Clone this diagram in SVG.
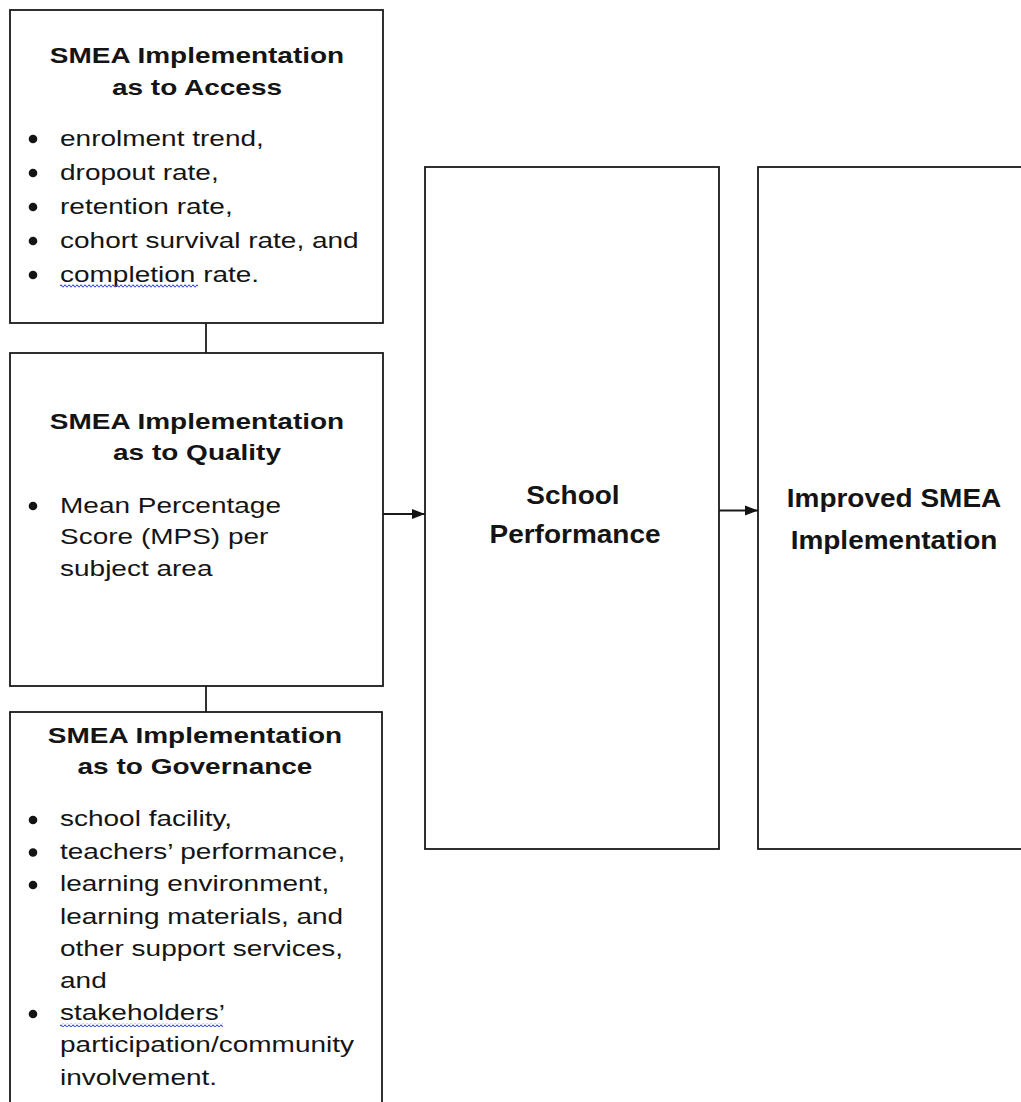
<svg xmlns="http://www.w3.org/2000/svg" width="1021" height="1102" viewBox="0 0 1021 1102">
<style>
.box{fill:#fff;stroke:#1a1a1a;stroke-width:1.8}
text{font-family:"Liberation Sans",Arial,sans-serif;font-size:28px;fill:#141414}
.t{font-weight:bold;text-anchor:middle}
.c{stroke:#1a1a1a;stroke-width:1.8;fill:none}
.dot{fill:#141414}
</style>
<defs>
<marker id="arr" markerWidth="14" markerHeight="12" refX="13" refY="6" orient="auto" markerUnits="userSpaceOnUse">
<path d="M0,1 L13,6 L0,11 Z" fill="#141414"/>
</marker>
<pattern id="wave" width="4" height="4" patternUnits="userSpaceOnUse">
<path d="M0,2 Q1,0.3 2,2 T4,2" fill="none" stroke="#3b4fd8" stroke-width="1.1"/>
</pattern>
</defs>
<rect width="1021" height="1102" fill="#fff"/>
<g id="connectors">
<line class="c" x1="206" y1="323" x2="206" y2="353"/>
<line class="c" x1="206" y1="686" x2="206" y2="712"/>
<line class="c" x1="383" y1="514" x2="425" y2="514" marker-end="url(#arr)"/>
<line class="c" x1="719" y1="510.5" x2="758" y2="510.5" marker-end="url(#arr)"/>
</g>
<g id="access">
<rect class="box" x="10" y="10" width="373" height="313"/>
<text class="t" transform="translate(197,63) scale(1,0.81)">SMEA Implementation</text>
<text class="t" transform="translate(197,95) scale(1,0.81)">as to Access</text>
<circle class="dot" cx="33" cy="139" r="4.3"/>
<circle class="dot" cx="33" cy="173" r="4.3"/>
<circle class="dot" cx="33" cy="207" r="4.3"/>
<circle class="dot" cx="33" cy="241" r="4.3"/>
<circle class="dot" cx="33" cy="275" r="4.3"/>
<text transform="translate(60,145.5) scale(1,0.81)">enrolment trend,</text>
<text transform="translate(60,179.5) scale(1,0.81)">dropout rate,</text>
<text transform="translate(60,213.5) scale(1,0.81)">retention rate,</text>
<text transform="translate(60,247.5) scale(1,0.81)">cohort survival rate, and</text>
<text transform="translate(60,281.5) scale(1,0.81)">completion rate.</text>
<rect x="60" y="284" width="138" height="4" fill="url(#wave)"/>
</g>
<g id="quality">
<rect class="box" x="10" y="353" width="373" height="333"/>
<text class="t" transform="translate(197,429) scale(1,0.81)">SMEA Implementation</text>
<text class="t" transform="translate(197,460) scale(1,0.81)">as to Quality</text>
<circle class="dot" cx="33" cy="506" r="4.3"/>
<text transform="translate(60,512.5) scale(1,0.81)">Mean Percentage</text>
<text transform="translate(60,544) scale(1,0.81)">Score (MPS) per</text>
<text transform="translate(60,575.5) scale(1,0.81)">subject area</text>
</g>
<g id="governance">
<rect class="box" x="10" y="712" width="372" height="420"/>
<text class="t" transform="translate(195,743) scale(1,0.81)">SMEA Implementation</text>
<text class="t" transform="translate(195,773.5) scale(1,0.81)">as to Governance</text>
<circle class="dot" cx="33" cy="820" r="4.3"/>
<circle class="dot" cx="33" cy="852.5" r="4.3"/>
<circle class="dot" cx="33" cy="885" r="4.3"/>
<circle class="dot" cx="33" cy="1014" r="4.3"/>
<text transform="translate(60,826) scale(1,0.81)">school facility,</text>
<text transform="translate(60,858.5) scale(1,0.81)">teachers’ performance,</text>
<text transform="translate(60,891) scale(1,0.81)">learning environment,</text>
<text transform="translate(60,923.5) scale(1,0.81)">learning materials, and</text>
<text transform="translate(60,956) scale(1,0.81)">other support services,</text>
<text transform="translate(60,988) scale(1,0.81)">and</text>
<text transform="translate(60,1020) scale(1,0.81)">stakeholders’</text>
<rect x="60" y="1023" width="163" height="4" fill="url(#wave)"/>
<text transform="translate(60,1052) scale(1,0.81)">participation/community</text>
<text transform="translate(60,1084.5) scale(1,0.81)">involvement.</text>
</g>
<g id="school-performance">
<rect class="box" x="425" y="167" width="294" height="682"/>
<text class="t" transform="translate(573,503.5) scale(1,0.93)">School</text>
<text class="t" transform="translate(575,542.5) scale(1,0.93)">Performance</text>
</g>
<g id="improved-smea">
<rect class="box" x="758" y="167" width="300" height="682"/>
<text class="t" transform="translate(894,507) scale(1,0.93)">Improved SMEA</text>
<text class="t" transform="translate(894,549) scale(1,0.93)">Implementation</text>
</g>
</svg>
